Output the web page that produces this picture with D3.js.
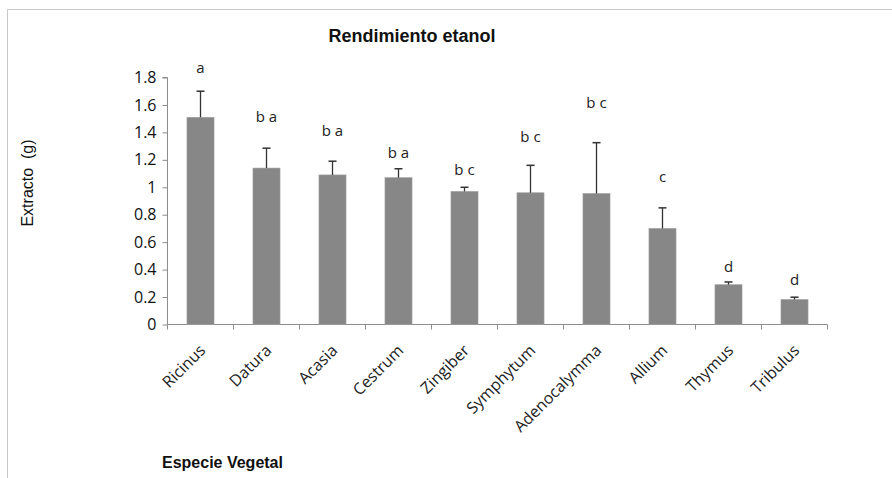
<!DOCTYPE html>
<html>
<head>
<meta charset="utf-8">
<script src="https://cdn.jsdelivr.net/npm/d3@7"></script>
<style>
  body { margin: 0; background: #fff; }
  .tick text { font-family: "Open Sans", sans-serif; }
</style>
</head>
<body>
<div id="chart"></div>
<script>
// Rendimiento etanol - extracto por especie
var especies = ["Ricinus", "Datura", "Acasia", "Cestrum", "Zingiber", "Symphytum", "Adenocalymma", "Allium", "Thymus", "Tribulus"];
var extracto = [1.51, 1.14, 1.09, 1.07, 0.97, 0.96, 0.955, 0.70, 0.29, 0.182];
var error = [0.19, 0.145, 0.10, 0.065, 0.03, 0.20, 0.37, 0.15, 0.02, 0.017];
var letras = ["a", "b a", "b a", "b a", "b c", "b c", "b c", "c", "d", "d"];
var alturaLetra = [1.87, 1.513, 1.411, 1.253, 1.126, 1.369, 1.613, 1.077, 0.42, 0.323];
var yTicks = [0, 0.2, 0.4, 0.6, 0.8, 1, 1.2, 1.4, 1.6, 1.8];

var width = 892,
    height = 478,
    plotLeft = 167.5,
    plotRight = 827.5,
    plotTop = 77.5,
    plotBottom = 324.5;

var svg = d3.select("#chart")
    .append("svg")
      .attr("width", width)
      .attr("height", height);

// marco
svg.append("path")
    .attr("d", "M7.5," + height + "V9.5H" + width)
    .style("fill", "none")
    .style("stroke", "#c8c8c8");

var x = d3.scaleBand()
    .domain(especies)
    .range([plotLeft, plotRight])
    .paddingInner(0.59)
    .paddingOuter(0.295);

var y = d3.scaleLinear()
    .domain([0, 1.8])
    .range([plotBottom, plotTop]);

var yAxis = d3.axisLeft(y)
    .tickValues(yTicks)
    .tickFormat(function(d) { return d3.format("")(+d.toFixed(1)); })
    .tickSize(5)
    .tickPadding(6);

var gy = svg.append("g")
    .attr("transform", "translate(" + plotLeft + ",0)")
    .call(yAxis);
gy.selectAll("text").style("font-size", "16px").style("fill", "#111");
gy.selectAll("line, path").style("stroke", "#8c8c8c");
gy.select(".domain").attr("d", "M-5," + plotTop + "H0V" + plotBottom);

// eje x con marcas en los limites de cada categoria
var gx = svg.append("g");
gx.append("line")
    .attr("x1", plotLeft).attr("x2", plotRight)
    .attr("y1", plotBottom).attr("y2", plotBottom)
    .style("stroke", "#8c8c8c");
var step = x.step();
gx.selectAll(".xt")
    .data(d3.range(especies.length + 1))
    .enter().append("line")
      .attr("x1", function(i) { return plotLeft + i * step; })
      .attr("x2", function(i) { return plotLeft + i * step; })
      .attr("y1", plotBottom)
      .attr("y2", plotBottom + 5)
      .style("stroke", "#8c8c8c");

// barras
svg.selectAll(".bar")
    .data(especies)
    .enter().append("rect")
      .attr("x", function(d) { return x(d); })
      .attr("width", x.bandwidth())
      .attr("y", function(d, i) { return y(extracto[i]); })
      .attr("height", function(d, i) { return plotBottom - y(extracto[i]); })
      .style("fill", "#878787")
      .style("stroke", "#a0a0a0")
      .style("stroke-width", 0.6);

// barras de error
var eg = svg.selectAll(".err")
    .data(especies)
    .enter().append("g");
eg.append("line")
    .attr("x1", function(d) { return x(d) + x.bandwidth() / 2; })
    .attr("x2", function(d) { return x(d) + x.bandwidth() / 2; })
    .attr("y1", function(d, i) { return y(extracto[i]); })
    .attr("y2", function(d, i) { return y(extracto[i] + error[i]); })
    .style("stroke", "#333")
    .style("stroke-width", 1.3);
eg.append("line")
    .attr("x1", function(d) { return x(d) + x.bandwidth() / 2 - 4; })
    .attr("x2", function(d) { return x(d) + x.bandwidth() / 2 + 4; })
    .attr("y1", function(d, i) { return y(extracto[i] + error[i]); })
    .attr("y2", function(d, i) { return y(extracto[i] + error[i]); })
    .style("stroke", "#333")
    .style("stroke-width", 1.5);

// letras de significancia
svg.selectAll(".letra")
    .data(especies)
    .enter().append("text")
      .attr("x", function(d) { return x(d) + x.bandwidth() / 2; })
      .attr("y", function(d, i) { return y(alturaLetra[i]); })
      .attr("dy", "0.35em")
      .attr("text-anchor", "middle")
      .style("font-family", "'Open Sans', sans-serif")
      .style("font-size", "15px")
      .style("fill", "#222")
      .style("white-space", "pre")
      .text(function(d, i) { return letras[i]; });

// etiquetas de categoria
svg.selectAll(".cat")
    .data(especies)
    .enter().append("text")
      .attr("transform", function(d) {
          return "translate(" + (x(d) + x.bandwidth() / 2 + 2) + "," + (plotBottom + 23) + ") rotate(-45)";
      })
      .attr("text-anchor", "end")
      .attr("dy", "0.35em")
      .style("font-family", "'Open Sans', sans-serif")
      .style("font-size", "16px")
      .style("fill", "#222")
      .text(function(d) { return d; });

// titulos
svg.append("text")
    .attr("x", 412)
    .attr("y", 42)
    .attr("text-anchor", "middle")
    .style("font-family", "'Liberation Sans', Arial, sans-serif")
    .style("font-weight", "bold")
    .style("font-size", "18px")
    .style("fill", "#111")
    .text("Rendimiento etanol");

svg.append("text")
    .attr("transform", "translate(33,183) rotate(-90)")
    .attr("text-anchor", "middle")
    .style("font-family", "'Liberation Sans', Arial, sans-serif")
    .style("font-size", "16px")
    .style("fill", "#111")
    .style("white-space", "pre")
    .text("Extracto  (g)");

svg.append("text")
    .attr("x", 162)
    .attr("y", 468)
    .style("font-family", "'Liberation Sans', Arial, sans-serif")
    .style("font-weight", "bold")
    .style("font-size", "16px")
    .style("fill", "#111")
    .text("Especie Vegetal");
</script>
</body>
</html>
